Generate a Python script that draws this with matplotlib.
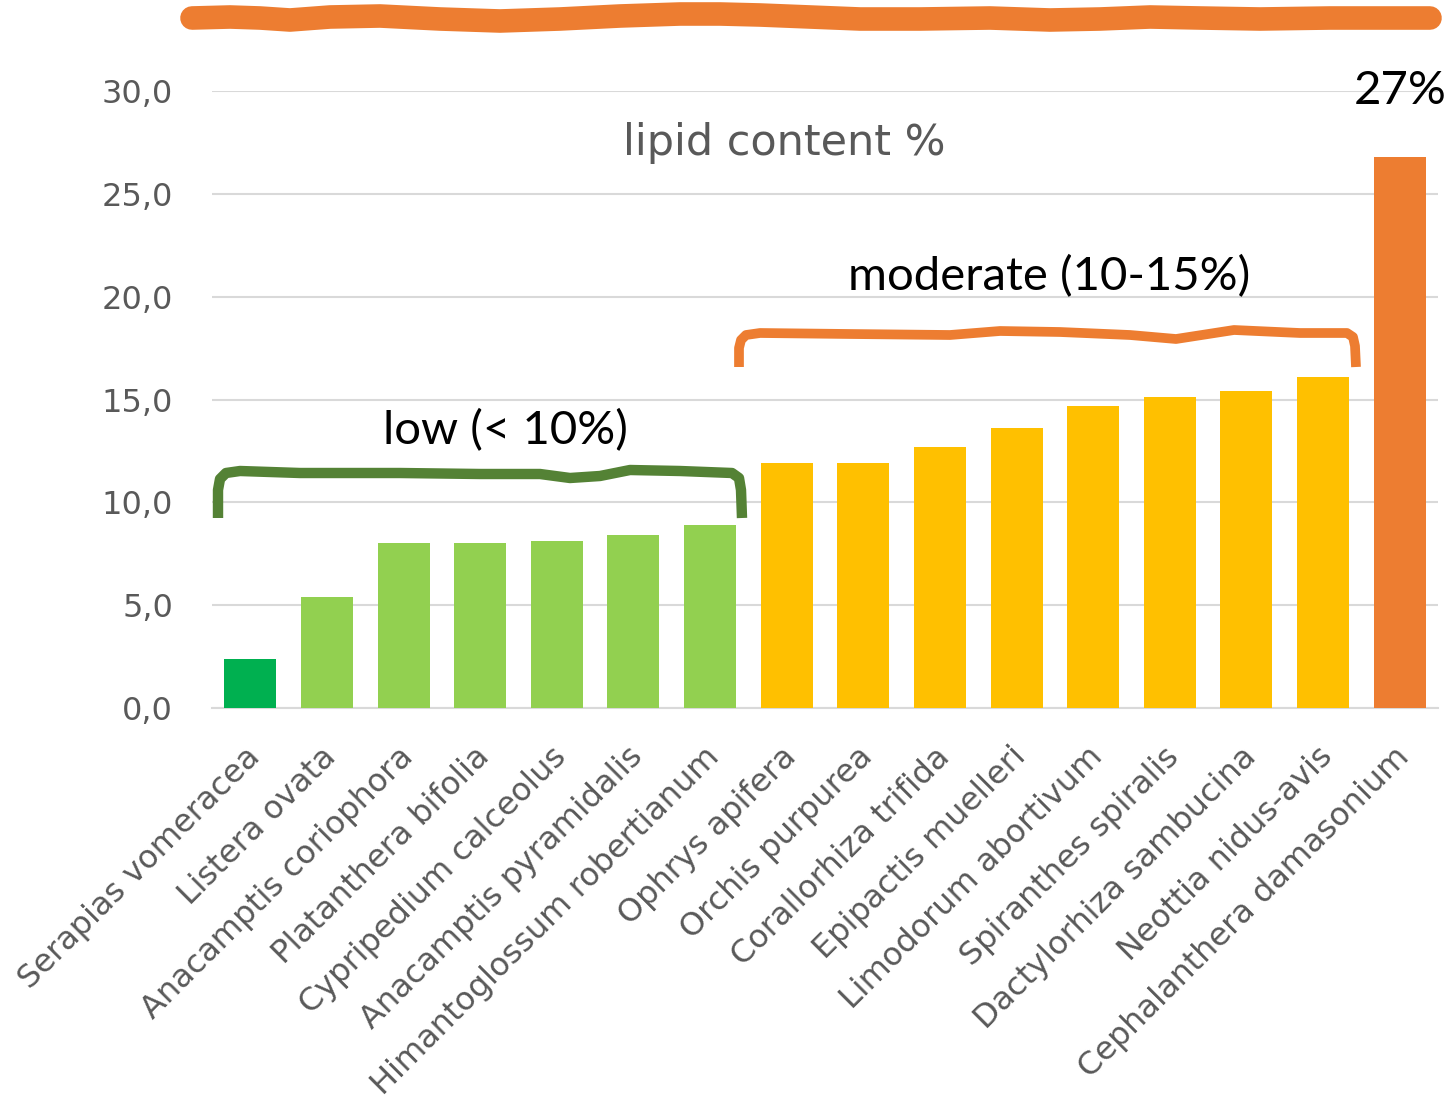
import numpy as np
import matplotlib
matplotlib.use("Agg")
import matplotlib.pyplot as plt
from matplotlib.ticker import FuncFormatter
from matplotlib.transforms import Affine2D, ScaledTranslation

# orchid species and lipid content (%)
species = ["Serapias vomeracea", "Listera ovata", "Anacamptis coriophora",
           "Platanthera bifolia", "Cypripedium calceolus", "Anacamptis pyramidalis",
           "Himantoglossum robertianum", "Ophrys apifera", "Orchis purpurea",
           "Corallorhiza trifida", "Epipactis muelleri", "Limodorum abortivum",
           "Spiranthes spiralis", "Dactylorhiza sambucina", "Neottia nidus-avis",
           "Cephalanthera damasonium"]
lipid = [2.4, 5.4, 8.0, 8.0, 8.1, 8.4, 8.9, 11.9, 11.9, 12.7, 13.6,
         14.7, 15.1, 15.4, 16.1, 26.8]
bar_colors = ["#00B050"] + ["#92D050"] * 6 + ["#FFC000"] * 8 + ["#ED7D31"]

W, H = 1448, 1103
fig = plt.figure(figsize=(W / 100, H / 100), dpi=100)
ax = fig.add_axes([212 / W, 1 - 708 / H, 1226 / W, 617 / H])

# pixel coords (origin top-left) for the hand-drawn marks
px = Affine2D().scale(1 / W, -1 / H).translate(0, 1) + fig.transFigure

x = np.arange(len(species))
ax.bar(x, lipid, width=0.68, color=bar_colors, zorder=3)

ax.set_xlim(-0.5, len(species) - 0.5)
ax.set_ylim(0, 30)
ax.set_yticks(np.arange(0, 31, 5))
ax.yaxis.set_major_formatter(FuncFormatter(lambda v, _: f"{v:.1f}".replace(".", ",")))
ax.yaxis.grid(True, color="#D9D9D9", lw=1.5, zorder=0)
ax.set_axisbelow(True)
for s in ["top", "right", "left"]:
    ax.spines[s].set_visible(False)
ax.spines["bottom"].set_color("#D9D9D9")
ax.spines["bottom"].set_linewidth(1.5)
ax.tick_params(axis="y", length=0, pad=28, labelsize=23, labelcolor="#595959")

ax.set_xticks(x)
ax.set_xticklabels(species, rotation=45, ha="right", va="top",
                   rotation_mode="anchor", fontsize=23, color="#595959")
ax.tick_params(axis="x", length=0, pad=24)
shift = ScaledTranslation(-0.06, 0, fig.dpi_scale_trans)
for lbl in ax.get_xticklabels():
    lbl.set_transform(lbl.get_transform() + shift)

ax.text(0.4666, 0.916, "lipid content %", transform=ax.transAxes,
        ha="center", va="center", fontsize=31, color="#595959")

# value label on the tallest bar
top = int(np.argmax(lipid))
ax.annotate(f"{lipid[top]:.0f}%", (x[top], lipid[top]), xytext=(0, 32),
            textcoords="offset points", ha="center", va="bottom",
            fontsize=34, family="Lato", color="black", annotation_clip=False)

ax.text(3.33, 13.5, "low (< 10%)", ha="center", va="center",
        fontsize=34, family="Lato", color="black")
ax.text(10.43, 20.95, "moderate (10-15%)", ha="center", va="center",
        fontsize=34, family="Lato", color="black")

# hand-drawn strokes
top_x = [192, 230, 260, 290, 330, 380, 440, 500, 560, 620, 680, 720, 760, 810,
         860, 920, 990, 1050, 1100, 1150, 1200, 1260, 1330, 1400, 1430]
top_y = [18, 17, 18, 20, 17, 16, 19, 21, 19, 16, 14, 14, 15, 17,
         19, 19, 18, 20, 19, 17, 18, 19, 18, 18, 18]
fig.add_artist(plt.Line2D(top_x, top_y, transform=px, color="#ED7D31",
                          lw=17, solid_capstyle="round", solid_joinstyle="round"))

green_x = [218, 218, 220, 226, 240, 300, 400, 480, 540, 570, 600, 630, 680, 732, 739, 741, 742]
green_y = [518, 490, 479, 473, 471, 473, 473, 474, 474, 478, 476, 470, 471, 473, 478, 490, 518]
fig.add_artist(plt.Line2D(green_x, green_y, transform=px, color="#548235",
                          lw=7.5, solid_capstyle="butt", solid_joinstyle="round"))

orange_x = [739, 739, 741, 746, 760, 850, 950, 1000, 1060, 1130, 1176, 1234, 1300, 1347, 1353, 1355, 1356]
orange_y = [367, 348, 340, 335, 333, 334, 335, 331, 332, 335, 339, 330, 333, 333, 337, 346, 367]
fig.add_artist(plt.Line2D(orange_x, orange_y, transform=px, color="#ED7D31",
                          lw=7, solid_capstyle="butt", solid_joinstyle="round"))

fig.savefig("out.png", dpi=100)
